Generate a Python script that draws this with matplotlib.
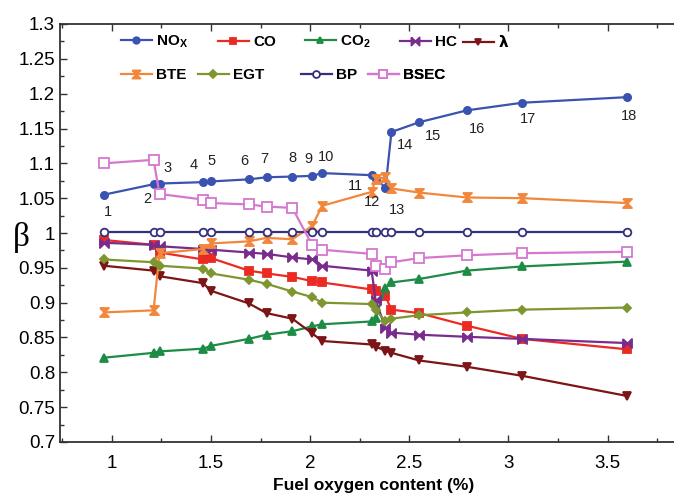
import numpy as np
import matplotlib
matplotlib.use('Agg')
import matplotlib.pyplot as plt
from matplotlib.ticker import MultipleLocator, FormatStrFormatter
from matplotlib.path import Path

# Fuel oxygen content (%) for the 18 blends
oxygen = [0.96, 1.21, 1.24, 1.46, 1.50, 1.69, 1.78, 1.91, 2.01, 2.06,
          2.31, 2.33, 2.38, 2.41, 2.55, 2.79, 3.07, 3.60]

# relative values (beta)
nox = [1.055, 1.070, 1.071, 1.073, 1.074, 1.077, 1.080, 1.081, 1.082, 1.086,
       1.083, 1.078, 1.065, 1.145, 1.159, 1.176, 1.187, 1.195]
co = [0.990, 0.983, 0.972, 0.962, 0.964, 0.946, 0.942, 0.937, 0.931, 0.929,
      0.919, 0.917, 0.909, 0.890, 0.885, 0.867, 0.848, 0.833]
co2 = [0.821, 0.828, 0.830, 0.834, 0.838, 0.848, 0.854, 0.859, 0.866, 0.869,
       0.873, 0.878, 0.921, 0.929, 0.934, 0.946, 0.952, 0.959]
hc = [0.986, 0.983, 0.981, 0.977, 0.976, 0.972, 0.970, 0.965, 0.962, 0.953,
      0.946, 0.904, 0.863, 0.857, 0.854, 0.851, 0.848, 0.842]
lam = [0.953, 0.946, 0.938, 0.928, 0.917, 0.899, 0.885, 0.877, 0.856, 0.845,
       0.840, 0.837, 0.831, 0.828, 0.817, 0.808, 0.795, 0.766]
bte = [0.886, 0.889, 0.971, 0.977, 0.985, 0.988, 0.993, 0.991, 1.010, 1.039,
       1.059, 1.077, 1.080, 1.064, 1.058, 1.051, 1.050, 1.043]
egt = [0.962, 0.958, 0.953, 0.949, 0.942, 0.933, 0.927, 0.916, 0.908, 0.900,
       0.898, 0.890, 0.873, 0.877, 0.882, 0.886, 0.890, 0.893]
bp = [1.001] * 18
bsec = [1.100, 1.105, 1.056, 1.048, 1.043, 1.041, 1.038, 1.036, 0.983, 0.976,
        0.970, 0.952, 0.948, 0.958, 0.964, 0.968, 0.971, 0.973]

# point numbers and where they sit
point_ids = [str(i) for i in range(1, 19)]
id_x = [0.98, 1.18, 1.28, 1.41, 1.50, 1.67, 1.77, 1.91, 1.99, 2.08,
        2.23, 2.31, 2.44, 2.48, 2.62, 2.84, 3.10, 3.61]
id_y = [1.030, 1.049, 1.094, 1.098, 1.104, 1.104, 1.106, 1.107, 1.106, 1.109,
        1.067, 1.045, 1.033, 1.126, 1.139, 1.150, 1.163, 1.168]

# custom markers
hourglass = Path([(-1, 1), (1, 1), (-1, -1), (1, -1), (-1, 1)])
bowtie = Path([(-1, 1), (-1, -1), (1, 1), (1, -1), (-1, 1)])

plt.rcParams['font.family'] = ['Liberation Sans', 'DejaVu Sans']

fig = plt.figure(figsize=(6.74, 5.0), dpi=100)
ax = fig.add_axes([0.089, 0.116, 0.930, 0.836])

series = [
    (nox, 'NO$_\\mathregular{X}$', '#3a52b0', 'o', 5.2, True),
    (co, 'CO', '#ec2a24', 's', 5.5, True),
    (co2, 'CO$_\\mathregular{2}$', '#1d8c45', '^', 5.5, True),
    (hc, 'HC', '#772c8e', bowtie, 6.5, True),
    (lam, '$\\mathbf{\\lambda}$', '#7d1416', 'v', 5.5, True),
    (bte, 'BTE', '#f2873c', hourglass, 6.5, True),
    (egt, 'EGT', '#7e9630', 'D', 4.5, True),
    (bp, 'BP', '#34307e', 'o', 5.5, False),
    (bsec, 'BSEC', '#d677cf', 's', 6.5, False),
]

handles = []
for vals, label, color, marker, ms, filled in series:
    h, = ax.plot(oxygen, vals, color=color, lw=1.6, marker=marker, ms=ms,
                 mfc=color if filled else 'white', mec=color, mew=1.3,
                 label=label)
    handles.append(h)

for s, xx, yy in zip(point_ids, id_x, id_y):
    ax.text(xx, yy, s, fontsize=10.5, ha='center', va='center', color='#222222')

# legend entries placed one by one (pixel positions of the original)
leg_pos = [(121, 42), (218, 42), (305, 42), (400, 42), (463, 42),
           (121, 75), (198, 75), (301, 75), (368, 75)]
for h, (px, py) in zip(handles, leg_pos):
    lg = ax.legend([h], [h.get_label()], loc='center left',
                   bbox_to_anchor=(px / 674, 1 - py / 500),
                   bbox_transform=fig.transFigure, frameon=False,
                   borderpad=0, borderaxespad=0, handlelength=2.0,
                   handletextpad=0.3, markerscale=0.9,
                   prop={'weight': 'bold', 'size': 11})
    ax.add_artist(lg)

ax.set_xlim(0.738, 3.9)
ax.set_ylim(0.7, 1.3)
ax.xaxis.set_major_locator(MultipleLocator(0.5))
ax.xaxis.set_minor_locator(MultipleLocator(0.25))
ax.yaxis.set_major_locator(MultipleLocator(0.05))
ax.yaxis.set_minor_locator(MultipleLocator(0.025))
ax.xaxis.set_major_formatter(FormatStrFormatter('%g'))
ax.yaxis.set_major_formatter(FormatStrFormatter('%g'))
ax.tick_params(which='both', direction='in', top=True, right=False,
               labelsize=13.5, width=1.0, color='#333333')
ax.tick_params(which='major', length=5)
ax.tick_params(which='minor', length=3)
ax.tick_params(axis='x', which='major', pad=9)
for sp in ax.spines.values():
    sp.set_linewidth(1.3)
    sp.set_color('#333333')

ax.set_xlabel('Fuel oxygen content (%)', fontsize=12.5, fontweight='bold',
              labelpad=5)
ax.set_ylabel('β', fontsize=24, family=['Liberation Serif', 'DejaVu Serif'],
              rotation=0, va='center', ha='center')
ax.yaxis.set_label_coords(-0.061, 0.49)

fig.savefig('out.png', dpi=100)
